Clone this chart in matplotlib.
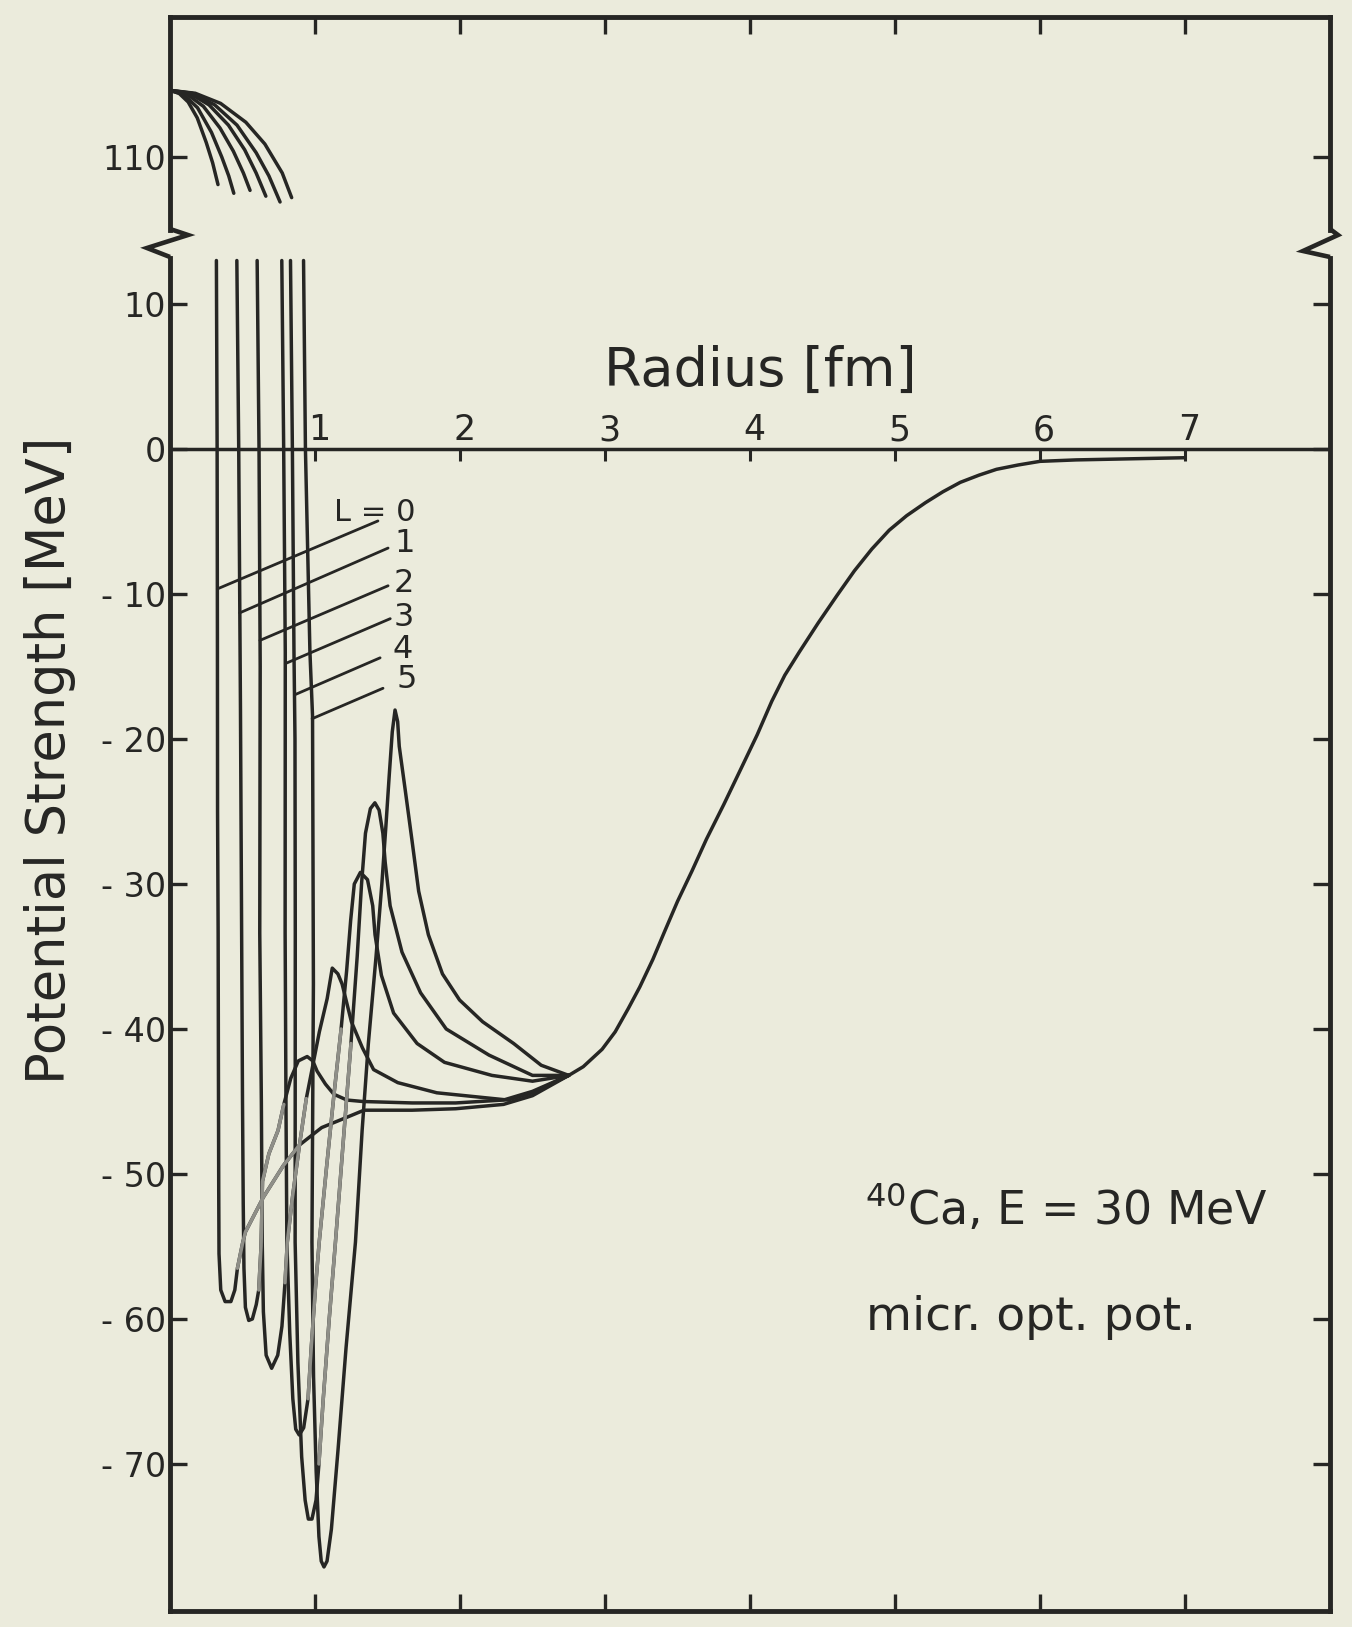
import matplotlib
matplotlib.use("Agg")
import matplotlib.pyplot as plt
from matplotlib.lines import Line2D

# ---------------- data ----------------
# Radius r [fm], potential V [MeV]
# upper panel branches (V around 105..115 MeV)
up_r_L0 = [0.000, 0.062, 0.125, 0.188, 0.250, 0.294, 0.331]
up_V_L0 = [114.6, 114.4, 113.8, 112.7, 111.0, 109.6, 108.1]
up_r_L1 = [0.000, 0.095, 0.190, 0.286, 0.357, 0.405, 0.440]
up_V_L1 = [114.6, 114.3, 113.4, 111.7, 110.0, 108.7, 107.5]
up_r_L2 = [0.000, 0.115, 0.230, 0.345, 0.437, 0.506, 0.552]
up_V_L2 = [114.6, 114.35, 113.5, 112.0, 110.4, 108.9, 107.7]
up_r_L3 = [0.000, 0.134, 0.269, 0.403, 0.515, 0.594, 0.661]
up_V_L3 = [114.6, 114.4, 113.6, 112.2, 110.5, 108.9, 107.3]
up_r_L4 = [0.000, 0.154, 0.308, 0.462, 0.594, 0.682, 0.759]
up_V_L4 = [114.6, 114.4, 113.6, 112.2, 110.3, 108.7, 106.9]
up_r_L5 = [0.000, 0.174, 0.349, 0.523, 0.654, 0.774, 0.839]
up_V_L5 = [114.6, 114.4, 113.7, 112.4, 110.9, 108.9, 107.2]

# lower panel branches
lo_r_L0 = [0.320, 0.325, 0.327, 0.328, 0.332, 0.334, 0.336, 0.338, 0.350, 0.380, 0.420, 0.447,
           0.465, 0.500, 0.520, 0.644, 0.783, 0.893, 1.046, 1.217, 1.338, 1.670, 1.970, 2.300,
           2.500, 2.750]
lo_V_L0 = [13.0, 0.0, -13.0, -25.0, -33.4, -43.0, -51.0, -55.5, -58.0, -58.8, -58.8, -58.0,
           -56.5, -54.8, -54.0, -51.6, -49.4, -48.0, -46.8, -46.1, -45.6, -45.6, -45.5, -45.2,
           -44.6, -43.2]
lo_r_L1 = [0.461, 0.474, 0.486, 0.494, 0.500, 0.505, 0.510, 0.520, 0.543, 0.568, 0.595, 0.612,
           0.628, 0.638, 0.682, 0.745, 0.785, 0.833, 0.885, 0.946, 0.985, 1.014, 1.072, 1.130,
           1.220, 1.329, 1.670, 1.970, 2.300, 2.500, 2.750]
lo_V_L1 = [13.0, 0.0, -18.0, -33.4, -45.0, -52.0, -56.5, -59.2, -60.1, -60.0, -59.0, -58.0,
           -55.0, -50.5, -48.6, -47.0, -45.2, -43.4, -42.2, -41.9, -42.2, -42.9, -43.8, -44.5,
           -44.9, -45.0, -45.1, -45.1, -44.9, -44.3, -43.2]
lo_r_L2 = [0.601, 0.614, 0.622, 0.619, 0.630, 0.636, 0.644, 0.663, 0.701, 0.743, 0.772, 0.793,
           0.809, 0.846, 0.893, 0.940, 0.985, 1.030, 1.084, 1.119, 1.158, 1.187, 1.251, 1.327,
           1.404, 1.571, 1.840, 2.330, 2.500, 2.750]
lo_V_L2 = [13.0, 0.0, -15.0, -33.4, -45.0, -54.7, -59.5, -62.5, -63.4, -62.5, -60.5, -57.5,
           -54.7, -51.5, -48.0, -44.8, -42.5, -40.2, -37.9, -35.8, -36.2, -36.9, -39.5, -41.3,
           -42.8, -43.7, -44.4, -44.9, -44.4, -43.2]
lo_r_L3 = [0.771, 0.784, 0.795, 0.794, 0.800, 0.806, 0.826, 0.847, 0.867, 0.891, 0.922, 0.952,
           0.974, 1.002, 1.029, 1.080, 1.131, 1.180, 1.218, 1.246, 1.271, 1.313, 1.362, 1.398,
           1.414, 1.458, 1.542, 1.704, 1.893, 2.220, 2.500, 2.750]
lo_V_L3 = [13.0, 0.0, -14.0, -33.4, -45.5, -54.7, -61.0, -65.5, -67.6, -68.0, -67.5, -65.5,
           -62.0, -58.0, -54.7, -49.5, -44.5, -40.0, -36.0, -32.5, -30.0, -29.2, -29.7, -31.5,
           -33.5, -36.3, -38.9, -41.0, -42.3, -43.2, -43.6, -43.2]
lo_r_L4 = [0.831, 0.844, 0.855, 0.862, 0.864, 0.863, 0.882, 0.908, 0.932, 0.954, 0.979, 1.007,
           1.027, 1.057, 1.098, 1.141, 1.193, 1.248, 1.291, 1.321, 1.348, 1.382, 1.413, 1.442,
           1.468, 1.484, 1.518, 1.600, 1.728, 1.905, 2.200, 2.500, 2.750]
lo_V_L4 = [13.0, 0.0, -14.0, -20.0, -33.4, -54.7, -63.0, -69.5, -72.5, -73.8, -73.8, -72.5,
           -70.0, -65.5, -60.0, -54.7, -48.0, -41.0, -35.0, -30.0, -26.5, -24.8, -24.4, -24.9,
           -26.5, -28.5, -31.5, -34.7, -37.5, -40.0, -41.8, -43.2, -43.2]
lo_r_L5 = [0.921, 0.934, 0.965, 0.983, 0.989, 0.979, 0.990, 1.008, 1.027, 1.043, 1.062, 1.083,
           1.113, 1.159, 1.214, 1.279, 1.325, 1.368, 1.421, 1.461, 1.489, 1.512, 1.533, 1.552,
           1.570, 1.581, 1.622, 1.669, 1.715, 1.782, 1.879, 1.997, 2.156, 2.370, 2.560, 2.750]
lo_V_L5 = [13.0, 0.0, -14.0, -18.4, -36.9, -54.7, -64.0, -70.5, -75.0, -76.7, -77.1, -76.7,
           -74.5, -69.0, -62.0, -54.7, -47.0, -41.0, -35.0, -30.0, -26.0, -22.5, -19.5, -18.0,
           -18.8, -20.5, -23.5, -27.0, -30.5, -33.5, -36.2, -38.0, -39.5, -41.0, -42.5, -43.2]

# common outer tail
tail_r = [2.75, 2.85, 2.98, 3.07, 3.16, 3.24, 3.33, 3.41, 3.50, 3.60, 3.70, 3.82, 3.94, 4.05, 4.15,
          4.24, 4.34, 4.47, 4.60, 4.72, 4.84, 4.96, 5.08, 5.21, 5.33, 5.45, 5.58, 5.70, 5.85, 6.00,
          6.25, 6.50, 7.00]
tail_V = [-43.2, -42.6, -41.4, -40.2, -38.6, -37.1, -35.2, -33.3, -31.2, -29.1, -26.9, -24.5, -22.0,
          -19.7, -17.4, -15.6, -14.0, -12.0, -10.1, -8.4, -6.9, -5.6, -4.6, -3.7, -2.95, -2.3, -1.8,
          -1.4, -1.1, -0.85, -0.75, -0.7, -0.6]

# L labels with leader lines
L_labels = ["1", "2", "3", "4", "5"]
lab_r = [1.62, 1.615, 1.61, 1.605, 1.63]
lab_V = [-6.5, -9.3, -11.6, -13.8, -15.9]
lead_r_curve = [0.326, 0.481, 0.620, 0.795, 0.860, 0.980]
lead_V_curve = [-9.65, -11.3, -13.2, -14.8, -16.95, -18.6]
lead_r_text = [1.434, 1.504, 1.504, 1.519, 1.449, 1.469]
lead_V_text = [-4.96, -6.83, -9.43, -11.7, -14.4, -16.5]

x_ticks = [1, 2, 3, 4, 5, 6, 7]
y_ticks_low = [10, 0, -10, -20, -30, -40, -50, -60, -70]
y_ticklabels_low = ["10", "0", "- 10", "- 20", "- 30", "- 40", "- 50", "- 60", "- 70"]
y_ticks_up = [110]
y_ticklabels_up = ["110"]

# ---------------- figure layout ----------------
W, H = 1352, 1627
fig = plt.figure(figsize=(W / 100, H / 100), dpi=100)
bg = "#ebebdc"
ink = "#262624"
faint = "#8f8f88"
fig.patch.set_facecolor(bg)
plt.rcParams["font.family"] = ["DejaVu Sans"]

LEFT, RIGHT = 170, 1330
TOP, JUNC, BOT = 17, 244, 1611


def fr(x, y):
    return x / W, 1 - y / H


ax_up = fig.add_axes([LEFT / W, 1 - JUNC / H, (RIGHT - LEFT) / W, (JUNC - TOP) / H])
ax_lo = fig.add_axes([LEFT / W, 1 - BOT / H, (RIGHT - LEFT) / W, (BOT - JUNC) / H])

for ax in (ax_up, ax_lo):
    ax.set_facecolor(bg)
    ax.set_xlim(0, 8.0)
    ax.set_xticks(x_ticks)
    for s in ax.spines.values():
        s.set_linewidth(3.5)
        s.set_color(ink)
        s.set_capstyle("projecting")

ax_up.set_ylim(104.0, 119.66)
ax_lo.set_ylim(-80.14, 14.14)

ax_up.spines["bottom"].set_visible(False)
ax_lo.spines["top"].set_visible(False)
ax_up.spines["left"].set_bounds(105.0, 119.66)
ax_up.spines["right"].set_bounds(105.0, 119.66)
ax_lo.spines["left"].set_bounds(-80.14, 13.2)
ax_lo.spines["right"].set_bounds(-80.14, 13.2)

ax_up.set_yticks(y_ticks_up)
ax_up.set_yticklabels(y_ticklabels_up)
ax_lo.set_yticks(y_ticks_low)
ax_lo.set_yticklabels(y_ticklabels_low)

ax_up.tick_params(axis="x", which="both", direction="in", top=True, bottom=False,
                  labeltop=False, labelbottom=False, length=12, width=2.4, color=ink)
ax_lo.tick_params(axis="x", which="both", direction="in", top=False, bottom=True,
                  labeltop=False, labelbottom=False, length=12, width=2.4, color=ink)
for ax in (ax_up, ax_lo):
    ax.tick_params(axis="y", direction="in", left=True, right=True, labelleft=True,
                   labelright=False, length=12, width=2.4, color=ink, pad=3,
                   labelsize=24, labelcolor=ink)

# zigzag breaks on the vertical frame lines
zig_left = [(LEFT, 229), (LEFT + 18, 235), (LEFT - 23, 248), (LEFT, 257)]
zig_right = [(RIGHT, 229), (RIGHT + 8, 235), (RIGHT - 27, 251), (RIGHT, 257)]
for zz in (zig_left, zig_right):
    xs = [fr(*p)[0] for p in zz]
    ys = [fr(*p)[1] for p in zz]
    fig.add_artist(Line2D(xs, ys, transform=fig.transFigure, color=ink, lw=3.3,
                          solid_joinstyle="miter", solid_capstyle="butt"))

# ---------------- curves ----------------
lw = 2.5
kw = dict(color=ink, lw=lw, solid_capstyle="round", solid_joinstyle="round")
for r, V in [(up_r_L0, up_V_L0), (up_r_L1, up_V_L1), (up_r_L2, up_V_L2),
             (up_r_L3, up_V_L3), (up_r_L4, up_V_L4), (up_r_L5, up_V_L5)]:
    ax_up.plot(r, V, **kw)

lower = [(lo_r_L0, lo_V_L0), (lo_r_L1, lo_V_L1), (lo_r_L2, lo_V_L2),
         (lo_r_L3, lo_V_L3), (lo_r_L4, lo_V_L4), (lo_r_L5, lo_V_L5)]
for r, V in lower:
    ax_lo.plot(r, V, **kw)
ax_lo.plot(tail_r, tail_V, **kw)

# the rising branches appear pale in the print where they cross the other curves
faint_spans = [(12, 18), (11, 17), (11, 16), (11, 18), (12, 18)]
for (r, V), (a, b) in zip(lower[:5], faint_spans):
    ax_lo.plot(r[a:b], V[a:b], color=faint, lw=lw, solid_capstyle="round",
               solid_joinstyle="round")

# zero axis with its ticks and numbers
ax_lo.axhline(0, color=ink, lw=2.5)
ax_lo.vlines(x_ticks, -0.8, 0, color=ink, lw=2.2)
for k in x_ticks:
    ax_lo.annotate(str(k), xy=(k, 0.6), xytext=(3, 0), textcoords="offset points",
                   ha="center", va="baseline", fontsize=25, color=ink)

# leader lines and L labels
for r0, v0, r1, v1 in zip(lead_r_curve, lead_V_curve, lead_r_text, lead_V_text):
    ax_lo.plot([r0, r1], [v0, v1], color=ink, lw=2.0, solid_capstyle="round")
ax_lo.text(1.69, -4.4, "L = 0", ha="right", va="center", fontsize=22, color=ink)
for t, r, v in zip(L_labels, lab_r, lab_V):
    ax_lo.text(r, v, t, ha="center", va="center", fontsize=23, color=ink)

# annotations
ax_lo.text(4.07, 5.4, "Radius [fm]", ha="center", va="center", fontsize=39, color=ink)
ax_lo.text(4.79, -52.4, r"$^{40}$Ca, E = 30 MeV", ha="left", va="center", fontsize=33,
           color=ink)
ax_lo.text(4.80, -59.9, "micr. opt. pot.", ha="left", va="center", fontsize=34, color=ink)
fig.text(50 / W, 1 - 760 / H, "Potential Strength [MeV]", rotation=90, ha="center",
         va="center", fontsize=38, color=ink)

fig.savefig("out.png", dpi=100, facecolor=bg)
